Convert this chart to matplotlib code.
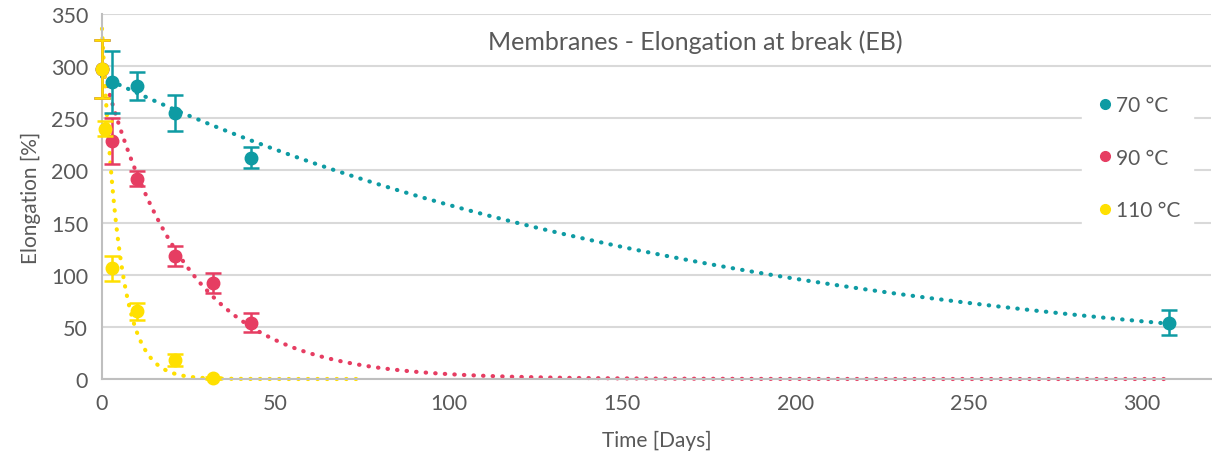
import matplotlib.pyplot as plt
import numpy as np

plt.rcParams['font.family'] = ['Lato', 'DejaVu Sans']

# data
series_labels = ["70 °C", "90 °C", "110 °C"]
colors = ["#0E9BA3", "#E63D62", "#FFE000"]

days_70 = [0, 3, 10, 21, 43, 308]
eb_70 = [297, 285, 281, 255, 212, 54]
err_70 = [28, 30, 13, 17, 10, 12]

days_90 = [0, 3, 10, 21, 32, 43]
eb_90 = [297, 228, 192, 118, 92, 54]
err_90 = [28, 22, 7, 10, 10, 9]

days_110 = [0, 1, 3, 10, 21, 32]
eb_110 = [297, 240, 106, 65, 18, 1]
err_110 = [28, 7, 12, 8, 6, 1]

# exponential trendlines y = a * exp(-b * x)
trend_a = [290, 299, 336]
trend_b = [0.00552, 0.0416, 0.20]
trend_end = [308, 308, 75]

x_ticks = [0, 50, 100, 150, 200, 250, 300]
y_ticks = [0, 50, 100, 150, 200, 250, 300, 350]

text_color = "#595959"
grid_color = "#d9d9d9"

fig = plt.figure(figsize=(12.12, 4.56), dpi=100)
ax = fig.add_axes([102 / 1212, 1 - 380 / 456, 1109 / 1212, 365 / 456])

all_days = [days_70, days_90, days_110]
all_eb = [eb_70, eb_90, eb_110]
all_err = [err_70, err_90, err_110]

for i in range(3):
    xs = np.linspace(0, trend_end[i], 300)
    ax.plot(xs, trend_a[i] * np.exp(-trend_b[i] * xs), color=colors[i],
            lw=3, linestyle=(0, (0.1, 2.2)), dash_capstyle='round', zorder=2,
            clip_on=False)

for i in range(3):
    eb = ax.errorbar(all_days[i], all_eb[i], yerr=all_err[i], fmt='o', color=colors[i],
                     ms=9, elinewidth=1.8, capsize=6, capthick=1.8, zorder=3 + i,
                     label=series_labels[i])
    for art in eb.get_children():
        art.set_clip_on(False)

ax.set_xlim(0, 320)
ax.set_ylim(0, 350)
ax.set_xticks(x_ticks)
ax.set_yticks(y_ticks)
ax.tick_params(length=0, labelsize=15.5, colors=text_color, pad=10)
ax.grid(axis='y', color=grid_color, lw=1.5)
ax.set_axisbelow(True)
for s in ['top', 'right']:
    ax.spines[s].set_visible(False)
for s in ['left', 'bottom']:
    ax.spines[s].set_color('#bfbfbf')
    ax.spines[s].set_linewidth(1.5)

ax.set_xlabel("Time [Days]", fontsize=15, color=text_color, labelpad=12)
ax.set_ylabel("Elongation [%]", fontsize=15, color=text_color, labelpad=7)
ax.text(0.535, 0.926, "Membranes - Elongation at break (EB)", transform=ax.transAxes,
        ha='center', va='center', fontsize=18, color=text_color)

handles = [plt.Line2D([], [], marker='o', ls='', color=c, ms=7) for c in colors]
leg = ax.legend(handles, series_labels, loc='upper left', bbox_to_anchor=(0.874, 0.84),
                frameon=True, fontsize=15, labelcolor=text_color, handletextpad=0.05,
                labelspacing=1.55, handlelength=1.0, borderpad=0.6, fancybox=False)
leg.get_frame().set_edgecolor('white')
leg.get_frame().set_facecolor('white')
leg.get_frame().set_alpha(1)

fig.savefig("out.png", dpi=100)
